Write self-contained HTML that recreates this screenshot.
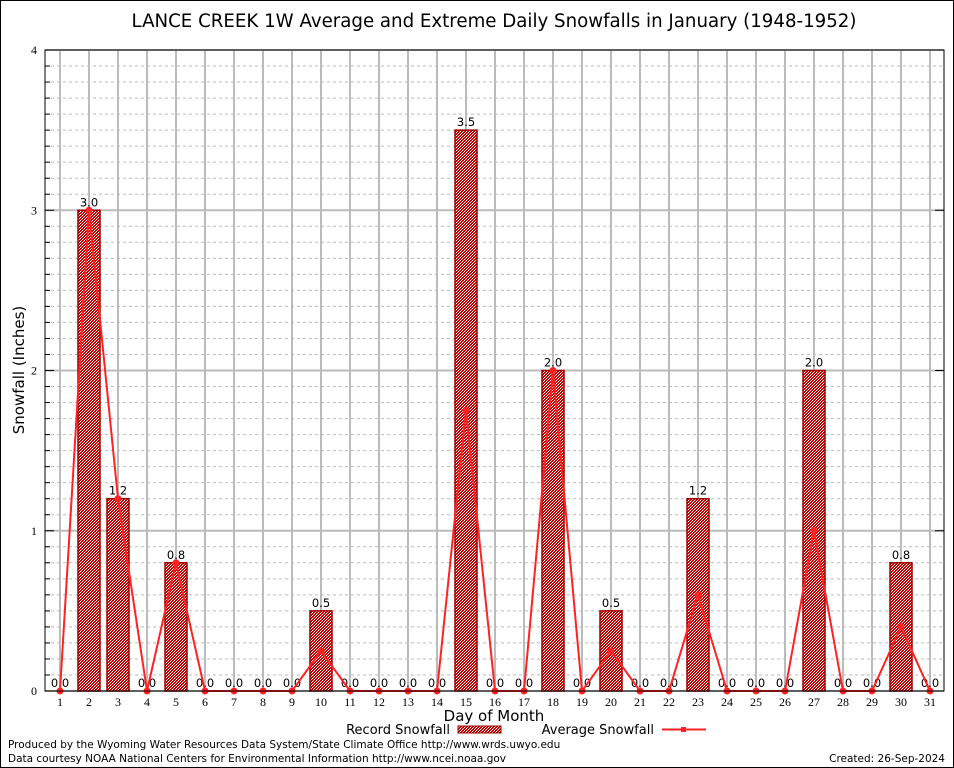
<!DOCTYPE html>
<html><head><meta charset="utf-8"><style>
body{margin:0;background:#fff;}
svg{display:block;font-family:"DejaVu Sans","Liberation Sans",sans-serif;}
</style></head><body>
<svg id="chart" width="954" height="768" viewBox="0 0 954 768" xmlns="http://www.w3.org/2000/svg">
<defs>
<pattern id="chk" width="3" height="3" patternUnits="userSpaceOnUse">
<rect width="3" height="3" fill="#c00000"/><rect x="0" y="0" width="1" height="1" fill="#fff"/><rect x="2" y="1" width="1" height="1" fill="#fff"/><rect x="1" y="2" width="1" height="1" fill="#fff"/>
</pattern>
</defs>
<rect x="0.5" y="0.5" width="953" height="767" fill="#fff" stroke="#000"/>
<text x="494" y="27" font-size="18.2" text-anchor="middle">LANCE CREEK 1W Average and Extreme Daily Snowfalls in January (1948-1952)</text>
<g id="grid"></g>
<g id="bars"></g>
<g id="line"></g>
<g id="axes"></g>
<text transform="translate(24,370) rotate(-90)" font-size="15" text-anchor="middle">Snowfall (Inches)</text>
<text x="494" y="721" font-size="15" text-anchor="middle">Day of Month</text>
<g>
<text x="450" y="734" font-size="13" text-anchor="end">Record Snowfall</text>
<rect x="458" y="726" width="43" height="7" fill="url(#chk)" stroke="#900"/>
<text x="654" y="734" font-size="13" text-anchor="end">Average Snowfall</text>
<line x1="662" y1="729.5" x2="706" y2="729.5" stroke="#f22" stroke-width="2"/>
<rect x="681" y="727" width="5" height="5" fill="#f22"/>
</g>
<text x="8" y="748" font-size="10.5">Produced by the Wyoming Water Resources Data System/State Climate Office http://www.wrds.uwyo.edu</text>
<text x="8" y="762" font-size="10.5">Data courtesy NOAA National Centers for Environmental Information http://www.ncei.noaa.gov</text>
<text x="945" y="762" font-size="10.5" text-anchor="end">Created: 26-Sep-2024</text>
</svg>
<script>
const days=[1,2,3,4,5,6,7,8,9,10,11,12,13,14,15,16,17,18,19,20,21,22,23,24,25,26,27,28,29,30,31];
const recordSnow=[0,3.0,1.2,0,0.8,0,0,0,0,0.5,0,0,0,0,3.5,0,0,2.0,0,0.5,0,0,1.2,0,0,0,2.0,0,0,0.8,0];
const avgSnow=[0,3.0,1.2,0,0.8,0,0,0,0,0.25,0,0,0,0,1.75,0,0,2.0,0,0.25,0,0,0.6,0,0,0,1.0,0,0,0.4,0];
const yTicks=[0,1,2,3,4];
const NS="http://www.w3.org/2000/svg";
const L=45,R=944,T=50,B=691;
const x=d=>60+(d-1)*29;
const y=v=>B-(v/4)*(B-T);
function mk(tag,attrs,parent,txt){const e=document.createElementNS(NS,tag);for(const k in attrs)e.setAttribute(k,attrs[k]);if(txt!==undefined)e.textContent=txt;document.getElementById(parent).appendChild(e);return e;}
for(let i=1;i<40;i++){if(i%10===0)continue;const v=i/10;
 const g=mk('line',{x1:L,x2:R,y1:y(v),y2:y(v),stroke:'#bbb','stroke-dasharray':'3,3'},'grid');
 
 
 const t=mk('line',{x1:L,x2:L+5,y1:y(v),y2:y(v),stroke:'#000'},'axes');
 
 }
yTicks.forEach(v=>{
 const g=mk('line',{x1:L,x2:R,y1:y(v),y2:y(v),stroke:'#bbb','stroke-width':2},'grid');
 
 
 const t=mk('line',{x1:L,x2:L+9,y1:y(v),y2:y(v),stroke:'#000'},'axes');
 
 
 const tr=mk('line',{x1:R-9,x2:R,y1:y(v),y2:y(v),stroke:'#000'},'axes');
 
 
 const l=mk('text',{x:L-8,y:y(v)+4,'font-size':12,'text-anchor':'end','font-family':'Liberation Serif, serif'},'axes',String(v));
 
 
});
days.forEach(d=>{
 const g=mk('line',{x1:x(d),x2:x(d),y1:T,y2:B,stroke:'#bbb','stroke-width':2},'grid');
 
 
 const l=mk('text',{x:x(d),y:B+15,'font-size':12,'text-anchor':'middle','font-family':'Liberation Serif, serif'},'axes',String(d));
 
 
});
const box=mk('rect',{x:L,y:T,width:R-L,height:B-T,fill:'none',stroke:'#000'},'axes');


days.forEach((d,i)=>{const v=recordSnow[i];
 if(v>0){const b=mk('rect',{x:x(d)-11,y:y(v),width:22,height:B-y(v),fill:'url(#chk)',stroke:'#900','stroke-width':1.5},'bars');
 
 }
 const t=mk('text',{x:x(d),y:y(v)-4,'font-size':11.5,'text-anchor':'middle'},'bars',v.toFixed(1));
 
 
});
const pts=days.map((d,i)=>x(d)+','+y(avgSnow[i])).join(' ');
const pl=mk('polyline',{points:pts,fill:'none',stroke:'#f22','stroke-width':2},'line');


days.forEach((d,i)=>{const m=mk('circle',{cx:x(d),cy:y(avgSnow[i]),r:3.5,fill:'#f22'},'line');
 
 });
</script>
</body></html>
